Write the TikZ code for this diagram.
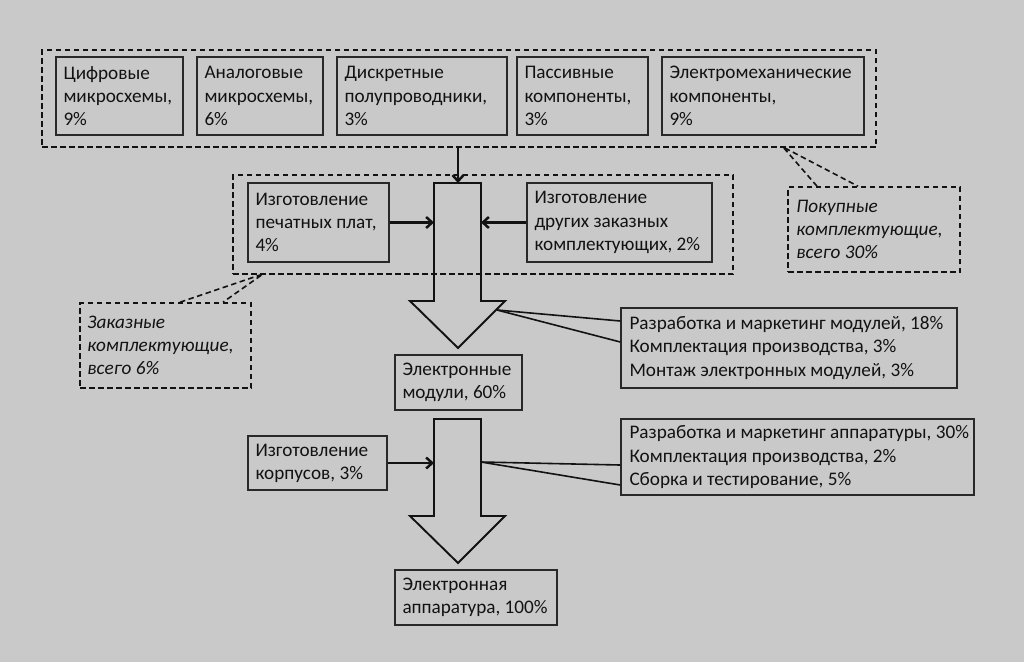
\documentclass[tikz,border=0pt]{standalone}
\usepackage{fontspec}
\setmainfont{Carlito}
\usetikzlibrary{arrows.meta}
\definecolor{bgc}{RGB}{201,201,201}
\definecolor{ink}{RGB}{18,18,18}
\definecolor{edge}{RGB}{40,40,40}
\begin{document}
\begin{tikzpicture}[x=1pt,y=-1pt,
  bx/.style={draw=edge, line width=1.4pt, rectangle, inner sep=0pt},
  dbox/.style={draw=ink, line width=1.6pt, dash pattern=on 5.5pt off 3.5pt, rectangle, inner sep=0pt},
  txt/.style={anchor=west, inner sep=0pt, align=left, text=ink, font=\fontsize{19.2}{23.2}\selectfont},
  itxt/.style={txt, font=\fontsize{19.2}{23.2}\selectfont\itshape},
  arr/.style={draw=ink, line width=2.5pt, -{Straight Barb[length=6pt,width=11pt,line width=2.5pt]}},
  bigarrow/.style={draw=ink, line width=1.9pt, line join=miter},
  thin/.style={draw=ink, line width=1.6pt},
  dline/.style={draw=ink, line width=1.6pt, dash pattern=on 5.5pt off 3.5pt}]
\useasboundingbox (0,0) rectangle (1024,662);
\fill[bgc] (0,0) rectangle (1024,662);

% purchased components group
\node[dbox, minimum width=834pt, minimum height=97pt] (outer) at (459,98.5) {};
\node[bx, minimum width=127pt, minimum height=78pt] (b1) at (119.5,96) {};
\node[txt] (t1) at ([xshift=8pt]b1.west) {Цифровые\\микросхемы,\\9\%};
\node[bx, minimum width=126pt, minimum height=78pt] (b2) at (260,96) {};
\node[txt] (t2) at ([xshift=8pt]b2.west) {Аналоговые\\микросхемы,\\6\%};
\node[bx, minimum width=170pt, minimum height=78pt] (b3) at (422,96) {};
\node[txt] (t3) at ([xshift=8pt]b3.west) {Дискретные\\полупроводники,\\3\%};
\node[bx, minimum width=131pt, minimum height=78pt] (b4) at (582.5,96) {};
\node[txt] (t4) at ([xshift=8pt]b4.west) {Пассивные\\компоненты,\\3\%};
\node[bx, minimum width=202pt, minimum height=78pt] (b5) at (763,96) {};
\node[txt] (t5) at ([xshift=8pt]b5.west) {Электромеханические\\компоненты,\\9\%};

% callout: purchased
\node[dbox, minimum width=172pt, minimum height=85pt] (pc) at (874,229.5) {};
\node[itxt] (pct) at ([xshift=9pt]pc.west) {Покупные\\комплектующие,\\всего 30\%};
\coordinate (pa) at (783,147);
\draw[dline] ([xshift=-57pt]pc.north) -- (pa) -- ([xshift=-16pt]pc.north);

% custom components group
\node[dbox, minimum width=500pt, minimum height=99pt] (inner) at (483,224.5) {};
\node[bx, minimum width=141pt, minimum height=79pt] (c1) at (318.5,222.5) {};
\node[txt] (ct1) at ([xshift=8pt]c1.west) {Изготовление\\печатных плат,\\4\%};
\node[bx, minimum width=185pt, minimum height=79pt] (c2) at (619.5,222.5) {};
\node[txt] (ct2) at ([xshift=8pt]c2.west) {Изготовление\\других заказных\\комплектующих, 2\%};

% callout: custom
\node[dbox, minimum width=171pt, minimum height=85pt] (zc) at (165.5,345.5) {};
\node[itxt] (zct) at ([xshift=8pt]zc.west) {Заказные\\комплектующие,\\всего 6\%};
\coordinate (za) at (263,274);
\draw[dline] ([xshift=14.5pt]zc.north) -- (za) -- ([xshift=57.5pt]zc.north);

% big arrow 1
\draw[bigarrow] (434,183) -- (481,183) -- (481,301) -- (505,301) -- (458,348) -- (410,301) -- (434,301) -- cycle;
\coordinate (s1top) at (458,183);
\coordinate (s1l) at (434,222.5);
\coordinate (s1r) at (481,222.5);
\coordinate (h1r) at (497,310);
\draw[arr] (outer.south -| s1top) -- (s1top);
\draw[arr] (c1.east) -- (s1l);
\draw[arr] (c2.west) -- (s1r);

% modules
\node[bx, minimum width=127pt, minimum height=55pt] (mod) at (458.5,382.5) {};
\node[txt] (modt) at ([xshift=8pt]mod.west) {Электронные\\модули, 60\%};

\node[bx, minimum width=336pt, minimum height=80pt] (r1) at (789,348) {};
\node[txt] (r1t) at ([xshift=9pt]r1.west) {Разработка и маркетинг модулей, 18\%\\Комплектация производства, 3\%\\Монтаж электронных модулей, 3\%};
\draw[thin] (h1r) -- ([yshift=27pt]r1.west);
\draw[thin] (h1r) -- ([yshift=6pt]r1.west);

% big arrow 2
\draw[bigarrow] (434,419) -- (481,419) -- (481,516) -- (505,516) -- (458,563) -- (410,516) -- (434,516) -- cycle;
\coordinate (s2l) at (434,463);
\coordinate (s2r) at (481,462);

\node[bx, minimum width=139pt, minimum height=54pt] (k) at (317.5,463) {};
\node[txt] (kt) at ([xshift=8pt]k.west) {Изготовление\\корпусов, 3\%};
\draw[arr] (k.east) -- (s2l);

\node[bx, minimum width=353pt, minimum height=76pt] (r2) at (797.5,457) {};
\node[txt] (r2t) at ([xshift=9pt]r2.west) {Разработка и маркетинг аппаратуры, 30\%\\Комплектация производства, 2\%\\Сборка и тестирование, 5\%};
\draw[thin] (s2r) -- ([yshift=-8pt]r2.west);
\draw[thin] (s2r) -- ([yshift=-28pt]r2.west);

% final
\node[bx, minimum width=162pt, minimum height=55pt] (fin) at (476,597.5) {};
\node[txt] (fint) at ([xshift=8pt]fin.west) {Электронная\\аппаратура, 100\%};
\end{tikzpicture}
\end{document}
